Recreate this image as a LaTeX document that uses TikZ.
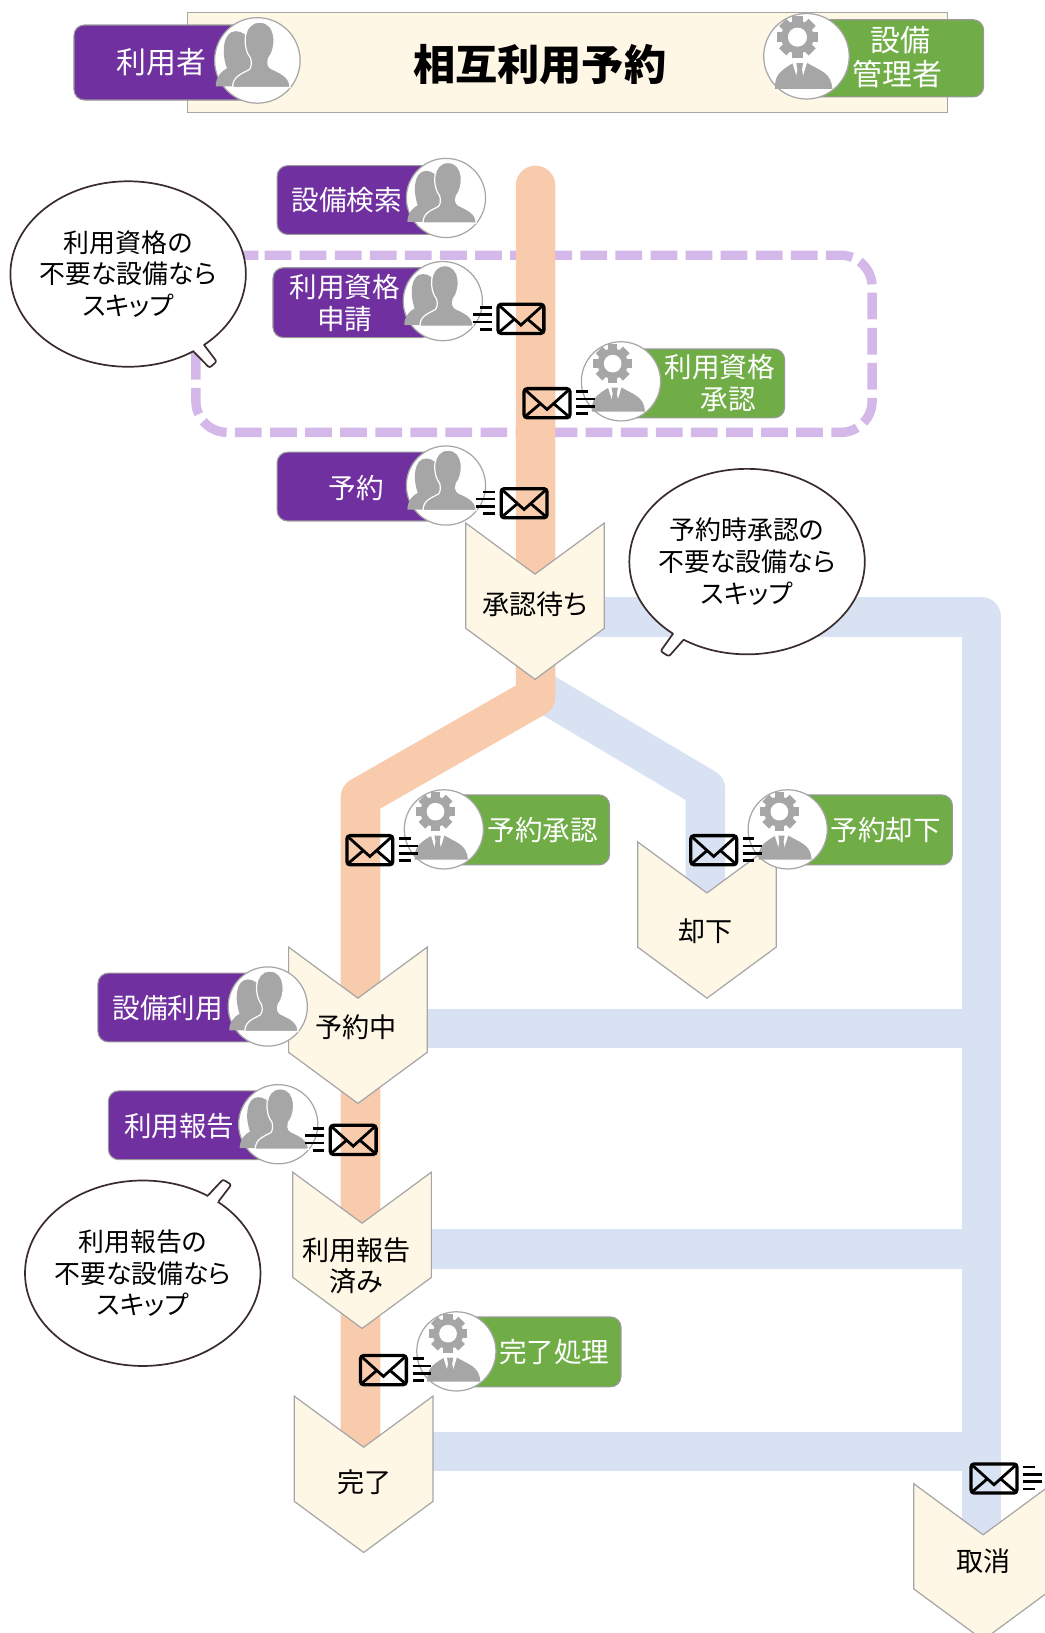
\documentclass[tikz,border=0pt]{standalone}
\usepackage{fontspec}
\usetikzlibrary{calc,shapes.geometric}
\setmainfont[RawFeature=+palt]{Noto Sans CJK JP}
\definecolor{userpurple}{HTML}{7030A0}
\definecolor{admingreen}{HTML}{70AD47}
\definecolor{bandorange}{HTML}{F8CBAD}
\definecolor{bandblue}{HTML}{D9E2F3}
\definecolor{dashpurple}{HTML}{D5B8EA}
\definecolor{statuscream}{HTML}{FFF7E6}
\definecolor{icongray}{HTML}{A6A6A6}
\definecolor{bubbleline}{HTML}{3B2C2C}
\tikzset{
	x=0.03cm, y=-0.03cm,
	band/.style={line width=1.14cm, line join=round},
	rolebox/.style={draw=gray!80, line width=0.9pt, rounded corners=0.3cm},
	roletext/.style={text=white, align=center, inner sep=0pt, font=\fontsize{22.6}{26.4}\selectfont},
	roletitle/.style={text=white, align=center, inner sep=0pt, font=\fontsize{24.5}{27.2}\selectfont},
	statustext/.style={align=center, inner sep=0pt, font=\fontsize{22.2}{25.5}\selectfont},
	bubble/.style={ellipse, draw=bubbleline, fill=white, line width=1.4pt, inner ysep=0pt, inner xsep=-0.25cm, minimum width=6.78cm, minimum height=5.34cm, align=center, font=\fontsize{21.2}{25.9}\selectfont},
}
\def\statusbox(#1,#2,#3,#4)#5#6{
	\begin{scope}[shift={(#1,#2)}]
		\draw[fill=statuscream, draw=icongray, line width=1pt] (-66.5,0) -- (0,49) -- (66.5,0) -- (66.5,101) -- (0,150) -- (-66.5,101) -- cycle;
		\node[statustext] (#5) at (#3,#4) {#6};
	\end{scope}
}
\def\usericon(#1,#2,#3){
	\begin{scope}[shift={(#1,#2)}, scale=#3]
		\draw[fill=white, draw=icongray, line width=1pt] (0,0) circle (38);
		\fill[icongray] (-37,23) .. controls (-37,14) and (-31,9) .. (-27,7) .. controls (-32,-6) and (-31,-26) .. (-19,-26) .. controls (-8,-26) and (0,-10) .. (0,0) -- (0,23) -- cycle;
		\draw[fill=icongray, draw=white, line width=1pt] (-22,24) .. controls (-22,14) and (-14,12) .. (-7,8) .. controls (-5,5) and (-5,2) .. (-6,-2) .. controls (-13,-10) and (-14,-34) .. (2,-34) .. controls (18,-34) and (17,-10) .. (10,-2) .. controls (9,2) and (9,5) .. (12,7) .. controls (20,11) and (29,14) .. (29,24) -- cycle;
	\end{scope}
}
\def\adminicon(#1,#2,#3){
	\begin{scope}[shift={(#1,#2)}, scale=#3]
		\draw[fill=white, draw=icongray, line width=1pt] (0,0) circle (38);
		\fill[icongray] (-28,29) .. controls (-28,18) and (-26,14) .. (-10,5) -- (-1,5) .. controls (12,13) and (22,14) .. (23,29) -- cycle;
		\fill[white] (-13,4) -- (-6,27) -- (1,4) -- cycle;
		\fill[icongray] (-9,6) -- (-3,6) -- (-4,12) -- (-2,22) -- (-6,27) -- (-10,22) -- (-8,12) -- cycle;
		\begin{scope}[shift={(-8,-17)}]
			\foreach \ang in {0,45,...,315}
				\fill[icongray, rotate=\ang] (-4.5,10) rectangle (4.5,18.5);
			\fill[icongray] (0,0) circle (14.5);
			\fill[white] (0,0) circle (8.5);
		\end{scope}
	\end{scope}
}
\def\mailicon(#1,#2,#3){
	\begin{scope}[shift={(#1,#2)}]
		\draw[line width=2.7pt, rounded corners=0.09cm] (-22,-14) rectangle (22,14);
		\draw[line width=2.3pt] (-20,-12) -- (0,6) -- (20,-12);
		\draw[line width=2.3pt] (-20,12) -- (-6,0) (20,12) -- (6,0);
		\draw[line width=2.1pt] (#3*28,-11) -- (#3*39,-11) (#3*28,-4) -- (#3*46,-4) (#3*28,3) -- (#3*46,3) (#3*28,10) -- (#3*39,10);
	\end{scope}
}
\def\bubbletail(#1)(#2)(#3)(#4)(#5){
	\fill[white] ($(#1)!0.03!(#5)$) -- (#2) -- (#3) -- ($(#4)!0.03!(#5)$) -- ($(#1)!0.5!(#4)!0.12!(#5)$) -- cycle;
	\draw[draw=bubbleline, line width=1.4pt, line join=round, rounded corners=0.06cm] ($(#1)!0.03!(#5)$) -- (#2) -- (#3) -- ($(#4)!0.03!(#5)$);
}

\begin{document}
\begin{tikzpicture}
	\useasboundingbox (0,0) rectangle (1002,1567.3);

	%%%%% HEADER %%%%%
	\draw[fill=statuscream, draw=icongray, line width=1pt] (180,12) rectangle (909,108);
	\draw[rolebox, fill=userpurple] (71,24) rectangle (250,96);
	\node[roletitle] (usertitle) at (155,60) {利用者};
	\usericon(247,58,1.08)
	\draw[rolebox, fill=admingreen] (770,19) rectangle (944,93);
	\node[roletitle] (admintitle) at (861,55) {\hspace*{0.2em}設備\\管理者};
	\adminicon(774,54,1.08)
	\node[inner sep=0pt, font=\fontsize{34.6}{40}\selectfont\bfseries] (maintitle) at (518,62) {相互利用予約};

	%%%%% BANDS %%%%%
	\coordinate (orangetop) at (514,178);
	\coordinate (orangefork) at (514,669);
	\coordinate (orangebend) at (346,765);
	\coordinate (orangeend) at (346,1405);
	\coordinate (blueout) at (570,592);
	\coordinate (bluecorner) at (942,592);
	\coordinate (blueend) at (942,1490);
	\coordinate (rejectfork) at (522,665);
	\coordinate (rejectbend) at (677,757);
	\coordinate (rejectend) at (677,870);

	\draw[dashpurple, line width=0.27cm, dash pattern=on 0.77cm off 0.24cm, dash phase=0.83cm, rounded corners=0.9cm] (218,245) -- (837,245) -- (837,415) -- (188,415) -- (188,245) -- cycle;

	\draw[band, bandblue] (blueout) -- (bluecorner) -- (blueend);
	\draw[band, bandblue] (400,987) -- (942,987);
	\draw[band, bandblue] (404,1199) -- (942,1199);
	\draw[band, bandblue] (405,1393) -- (942,1393);
	\draw[band, bandblue] (rejectfork) -- (rejectbend) -- (rejectend);
	\draw[band, bandorange, line cap=round] (orangetop) -- (orangefork) -- (orangebend) -- (orangeend);

	%%%%% STATUS %%%%%
	\statusbox(513.5,502,0,78){waiting}{承認待ち}
	\statusbox(678.5,808,-1.5,86){rejected}{却下}
	\statusbox(343.5,909,-1.5,77){reserved}{予約中}
	\statusbox(347.5,1125,-5.5,90){reported}{利用報告\\済み}
	\statusbox(349,1340,1,83){finished}{完了}
	\statusbox(943.5,1424,0.5,74){cancelled}{取消}

	%%%%% USER STEPS %%%%%
	\draw[rolebox, fill=userpurple] (266,159) rectangle (420,225);
	\node[roletext] (search) at (333,192) {設備検索};
	\usericon(428,190,1)
	\draw[rolebox, fill=userpurple] (262,257) rectangle (415,324);
	\node[roletext] (qualreq) at (331,291) {利用資格\\申請};
	\usericon(425,289,1)
	\draw[rolebox, fill=userpurple] (266,434) rectangle (420,500);
	\node[roletext] (reserve) at (342,468) {予約};
	\usericon(428,466,1)
	\draw[rolebox, fill=userpurple] (94,934) rectangle (250,1000);
	\node[roletext] (useit) at (161,968) {設備利用};
	\usericon(257,966,1)
	\draw[rolebox, fill=userpurple] (104,1047) rectangle (260,1113);
	\node[roletext] (report) at (172,1081) {利用報告};
	\usericon(267,1079,1)

	%%%%% ADMIN STEPS %%%%%
	\draw[rolebox, fill=admingreen] (590,335) rectangle (753,401);
	\node[roletext] (qualok) at (691,368) {利用資格\\\hspace*{0.6em}承認};
	\adminicon(596,366,1)
	\draw[rolebox, fill=admingreen] (430,763) rectangle (585,830);
	\node[roletext] (approve) at (521,797) {予約承認};
	\adminicon(426,796,1)
	\draw[rolebox, fill=admingreen] (760,763) rectangle (914,830);
	\node[roletext] (reject) at (850,797) {予約却下};
	\adminicon(756,796,1)
	\draw[rolebox, fill=admingreen] (442,1264) rectangle (596,1331);
	\node[roletext] (complete) at (532,1298) {完了処理};
	\adminicon(438,1297,1)

	%%%%% MAIL %%%%%
	\mailicon(500,306,-1)
	\mailicon(525,387,1)
	\mailicon(503,483,-1)
	\mailicon(355,816,1)
	\mailicon(685,816,1)
	\mailicon(339,1094,-1)
	\mailicon(368,1315,1)
	\mailicon(954,1419,1)

	%%%%% BUBBLES %%%%%
	\node[bubble] (skipqual) at (123,263) {利用資格の\\不要な設備なら\\スキップ};
	\bubbletail(187,339)(201,353)(208,347)(198,333)(skipqual)
	\node[bubble] (skipappr) at (717,539) {予約時承認の\\不要な設備なら\\スキップ};
	\bubbletail(644,610)(634,625)(642,630)(654.5,616)(skipappr)
	\node[bubble] (skiprep) at (137,1222) {利用報告の\\不要な設備なら\\スキップ};
	\bubbletail(201.6,1145)(214,1132)(222,1137)(212,1151)(skiprep)
\end{tikzpicture}
\end{document}
